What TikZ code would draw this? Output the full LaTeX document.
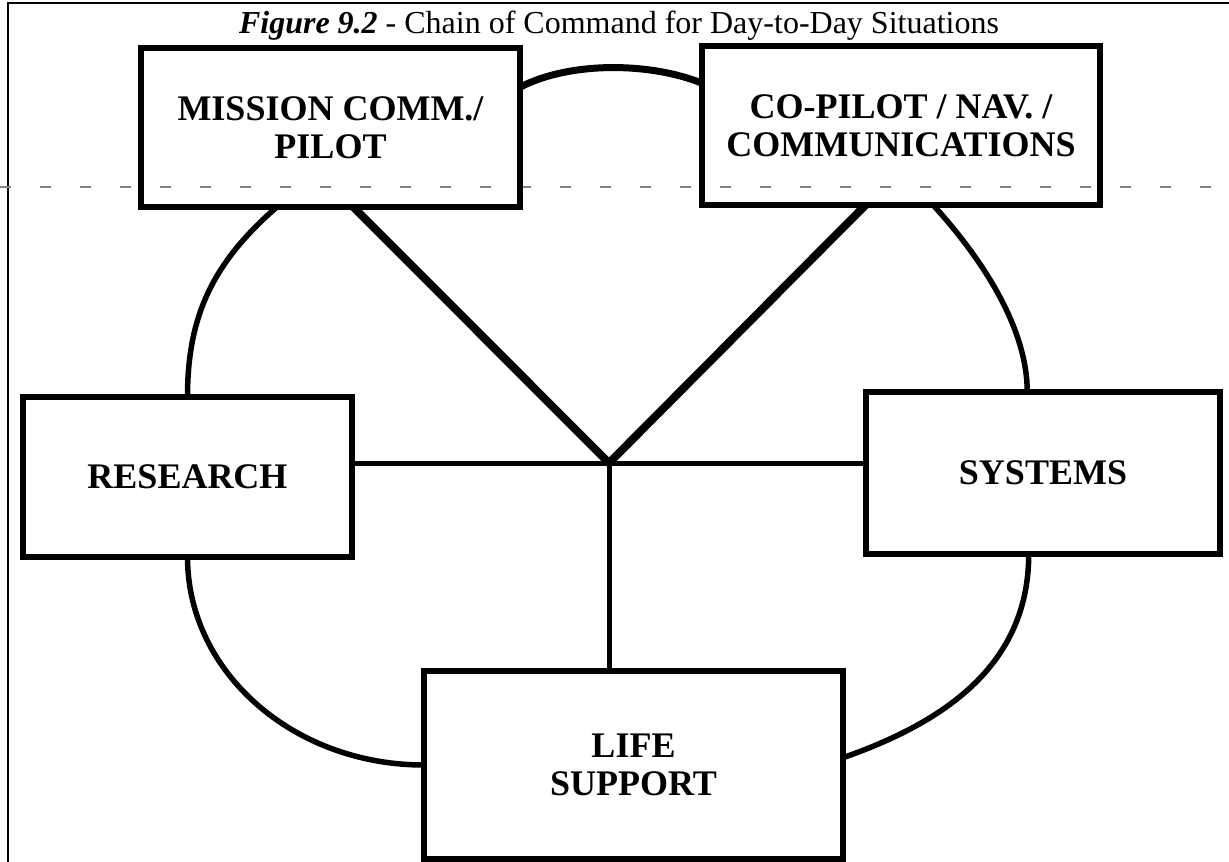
\documentclass[tikz,border=0pt]{standalone}
\usepackage{fontspec}
\setmainfont{Liberation Serif}
\usetikzlibrary{calc}
\definecolor{scangray}{RGB}{130,130,130}

\begin{document}
\begin{tikzpicture}[x=1pt,y=-1pt,
    box/.style={draw,line width=6pt,outer sep=0pt,inner sep=0pt,align=center,
      font=\fontsize{36}{38}\selectfont\bfseries},
    spoke/.style={line width=8pt,line join=miter},
    link/.style={line width=5pt},
    loopline/.style={line width=5.5pt}]
  \useasboundingbox (0,0) rectangle (1229,862);
  % Frame and fold line
  \draw[line width=1.5pt] (8,862) -- (8,3) -- (1229,3);
  \draw[scangray,line width=1.2pt,dash pattern=on 11pt off 29pt] (0,187) -- (1229,187);
  % Title
  \node[anchor=base,font=\fontsize{32}{38}\selectfont] (title) at (619,34)
    {\textbf{\textit{Figure 9.2}} - Chain of Command for Day-to-Day Situations};
  % Boxes
  \node[box,minimum width=379pt,minimum height=159pt] (mission) at (330.5,127.5) {MISSION COMM./\\PILOT};
  \node[box,minimum width=398pt,minimum height=159pt] (copilot) at (901,125.5) {CO-PILOT / NAV. /\\COMMUNICATIONS};
  \node[box,minimum width=329pt,minimum height=160pt] (research) at (187.5,477) {RESEARCH};
  \node[box,minimum width=354pt,minimum height=162pt] (systems) at (1043,473) {SYSTEMS};
  \node[box,minimum width=419pt,minimum height=188pt] (life) at (633.5,765) {LIFE\\SUPPORT};
  % Hub
  \coordinate (hub) at (609,463);
  \draw[spoke] (mission.-74) -- (hub) -- (copilot.-114);
  \draw[link] (research.east |- hub) -- (systems.west |- hub);
  \draw[link] (hub) -- (hub |- life.north);
  % Outer ring
  \draw[loopline,line width=7pt] (mission.12) .. controls +(50,-26) and +(-52,-21) .. (copilot.168);
  \draw[loopline] (mission.-124) .. controls +(-67,58) and +(0,-77) .. (research.north);
  \draw[loopline] (research.south) .. controls +(0,115) and +(-131,0) .. (life.west);
  \draw[loopline] (copilot.-68) .. controls +(52,57) and +(0,-62) .. (systems.101);
  \draw[loopline] (systems.-100) .. controls +(0,112) and +(100,-35) .. (life.2);
\end{tikzpicture}
\end{document}
